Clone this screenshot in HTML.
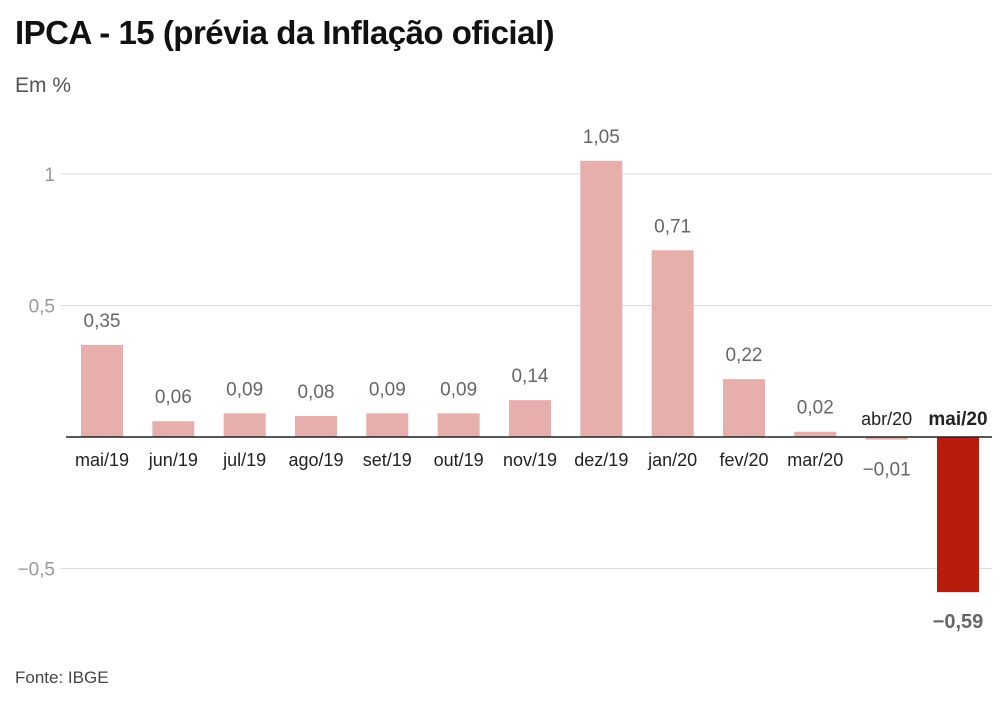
<!DOCTYPE html>
<html><head><meta charset="utf-8">
<style>
body{margin:0;background:#fff;font-family:"Liberation Sans",sans-serif;}
#wrap{position:relative;width:1008px;height:719px;overflow:hidden;}
h1{position:absolute;left:15px;top:14px;margin:0;font-size:33px;font-weight:bold;color:#111;letter-spacing:-0.5px;}
.sub{position:absolute;left:15px;top:74px;font-size:21px;color:#555;}
.src{position:absolute;left:15px;top:668px;font-size:17px;color:#444;}
</style></head><body>
<div id="wrap">
<h1>IPCA - 15 (prévia da Inflação oficial)</h1>
<div class="sub">Em %</div>
<svg id="chart" width="1008" height="719" style="position:absolute;left:0;top:0"></svg>
<div class="src">Fonte: IBGE</div>
</div>
<script>
const categories=["mai/19","jun/19","jul/19","ago/19","set/19","out/19","nov/19","dez/19","jan/20","fev/20","mar/20","abr/20","mai/20"];
const values=[0.35,0.06,0.09,0.08,0.09,0.09,0.14,1.05,0.71,0.22,0.02,-0.01,-0.59];
const tickValues=[-0.5,0.5,1];
const tickLabels=["−0,5","0,5","1"];
const NS="http://www.w3.org/2000/svg";
const svg=document.getElementById('chart');
const y0=437,scale=263;
const y=v=>y0-v*scale;
const x=i=>102+i*71.33;
const bw=42;
function mk(t,a){const e=document.createElementNS(NS,t);for(const k in a)e.setAttribute(k,a[k]);svg.appendChild(e);return e;}
tickValues.forEach((t,i)=>{
 const l=mk('line',{x1:60,x2:992,y1:y(t),y2:y(t),stroke:'#ddd','stroke-width':1});
 
 
 const tx=mk('text',{x:55,y:y(t)+7,'text-anchor':'end','font-size':19,fill:'#999','font-family':'Liberation Sans, sans-serif'});
 tx.textContent=tickLabels[i];
 
 
});
const fmt=v=>(v<0?'−':'')+Math.abs(v).toFixed(2).replace('.',',');
values.forEach((v,i)=>{
 const last=i===values.length-1;
 const top=Math.min(y(v),y0),h=Math.max(Math.abs(y(v)-y0),2);
 const r=mk('rect',{x:x(i)-bw/2,y:top,width:bw,height:h,fill:last?'#b81c0c':'#e6afac'});
 
 
 const vy=v>=0?y(v)-18:y(v)+36;
 const vt=mk('text',{x:x(i),y:vy,'text-anchor':'middle','font-size':last?20:19,'font-weight':last?'bold':'normal',fill:'#666','font-family':'Liberation Sans, sans-serif'});
 vt.textContent=fmt(v);
 
 
 const ly=v>=0?y0+29:y0-12;
 const ct=mk('text',{x:x(i),y:ly,'text-anchor':'middle','font-size':last?19:18,'font-weight':last?'bold':'normal',fill:'#222','font-family':'Liberation Sans, sans-serif'});
 ct.textContent=categories[i];
 
 
});
const z=mk('line',{x1:66,x2:992,y1:y0,y2:y0,stroke:'#222','stroke-width':1.5});


</script>
</body></html>
